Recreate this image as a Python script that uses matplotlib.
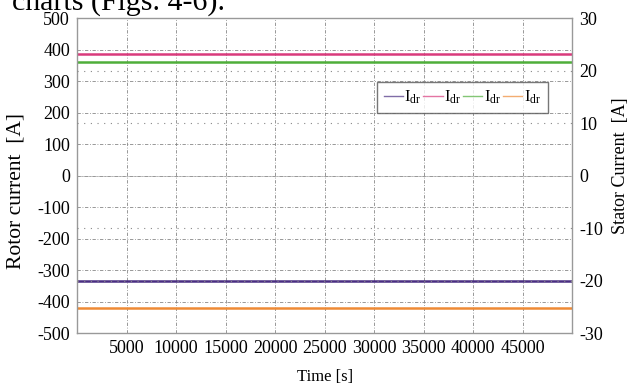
import matplotlib.pyplot as plt

plt.rcParams['font.family'] = ['Liberation Serif', 'DejaVu Serif']
plt.rcParams['mathtext.fontset'] = 'stix'
plt.rcParams['axes.unicode_minus'] = False

# data
time = [0, 50000]
i_purple = [-334, -334]
i_pink = [386, 386]
i_green = [361, 361]
i_orange = [-422, -422]
x_ticks = [5000, 10000, 15000, 20000, 25000, 30000, 35000, 40000, 45000]
left_ticks = [-500, -400, -300, -200, -100, 0, 100, 200, 300, 400, 500]
right_ticks = [-30, -20, -10, 0, 10, 20, 30]

fig = plt.figure(figsize=(6.3, 3.85), dpi=100)
ax = fig.add_axes([0.1222, 0.135, 0.786, 0.818])

fig.text(12/630, 1 - 10/385, 'charts (Figs. 4-6).', fontsize=21.5, va='baseline', ha='left')

lbl = r'I$_{\mathregular{dr}}$'
ax.plot(time, i_purple, color='#4b2f82', lw=1.8, label=lbl)
ax.plot(time, i_pink, color='#d93a7c', lw=1.8, label=lbl)
ax.plot(time, i_green, color='#4fae3a', lw=1.8, label=lbl)
ax.plot(time, i_orange, color='#ee8a35', lw=1.8, label=lbl)

ax.set_xlim(0, 50000)
ax.set_ylim(-500, 500)
ax.set_xticks(x_ticks)
ax.set_yticks(left_ticks)
ax.grid(True, color='#888888', linestyle=(0, (4, 2, 1, 2)), linewidth=0.6)
ax.axhline(0, color='#999999', lw=0.6, ls=(0, (1, 1)))
ax.tick_params(length=0, labelsize=13, pad=5)
ax.set_xlabel('Time [s]', fontsize=12, labelpad=9)
ax.set_ylabel('Rotor current  [A]', fontsize=15.5)
ax.yaxis.set_label_coords(-0.103, 0.45)
for s in ax.spines.values():
    s.set_color('#999999')
    s.set_linewidth(1)

ax2 = ax.twinx()
ax2.set_ylim(-30, 30)
ax2.set_yticks(right_ticks)
ax2.tick_params(length=0, labelsize=13, pad=5)
for y in [-20, -10, 10, 20]:
    ax2.axhline(y, color='#888888', lw=0.8, ls=(0, (1, 5)))
ax2.set_ylabel('Stator Current  [A]', fontsize=13)
ax2.yaxis.set_label_coords(1.08, 0.53)
for s in ax2.spines.values():
    s.set_visible(False)

leg = ax.legend(loc='upper right', bbox_to_anchor=(0.951, 0.797), ncol=4,
                handlelength=1.15, handletextpad=0.1, columnspacing=0.1,
                fontsize=12, frameon=True, fancybox=False, borderpad=0.4,
                borderaxespad=0)
leg.get_frame().set_edgecolor('#555555')
leg.get_frame().set_linewidth(1)
for h in leg.get_lines():
    h.set_linewidth(1)
    h.set_alpha(0.7)

fig.savefig('out.png', dpi=100)
